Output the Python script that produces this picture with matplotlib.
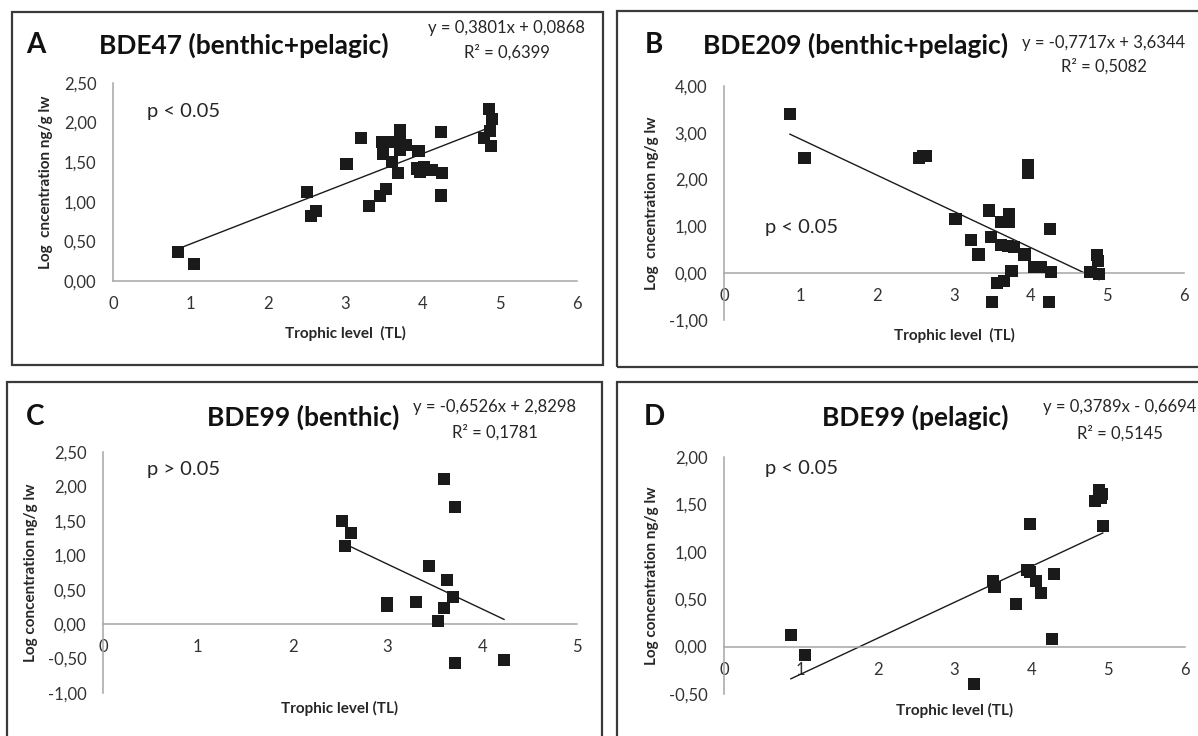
import numpy as np
import matplotlib
matplotlib.use("Agg")
import matplotlib.pyplot as plt
from matplotlib.patches import Rectangle
from matplotlib.ticker import FuncFormatter, MultipleLocator

plt.rcParams['font.family'] = ['Lato', 'DejaVu Sans']

# --- data (TL = trophic level, log conc ng/g lw) ---
tl_a = [0.84, 1.05, 2.51, 2.56, 2.62, 3.02, 3.21, 3.31, 3.45, 3.53, 3.48, 3.49, 3.61, 3.71, 3.68, 3.59,
        3.71, 3.79, 3.71, 3.95, 3.93, 4.02, 3.97, 4.12, 4.25, 4.24, 4.24, 4.86, 4.90, 4.87, 4.80, 4.89]
log_a = [0.37, 0.22, 1.12, 0.82, 0.88, 1.48, 1.81, 0.95, 1.07, 1.16, 1.76, 1.60, 1.50, 1.90, 1.36, 1.75,
         1.74, 1.72, 1.66, 1.64, 1.42, 1.44, 1.38, 1.40, 1.36, 1.88, 1.08, 2.17, 2.04, 1.89, 1.81, 1.70]

tl_b = [0.86, 1.05, 2.54, 2.63, 2.60, 3.96, 3.96, 3.02, 3.46, 3.72, 3.72, 3.61, 4.25, 3.22, 3.32, 3.48,
        3.61, 3.70, 3.78, 3.92, 4.04, 4.13, 4.26, 3.75, 3.56, 3.65, 3.50, 4.24, 4.87, 4.88, 4.78, 4.89]
log_b = [3.40, 2.47, 2.46, 2.50, 2.51, 2.31, 2.15, 1.16, 1.34, 1.27, 1.09, 1.09, 0.95, 0.70, 0.40, 0.77,
         0.61, 0.59, 0.56, 0.40, 0.13, 0.13, 0.03, 0.04, -0.21, -0.17, -0.61, -0.62, 0.38, 0.27, 0.03, -0.01]

tl_c = [2.52, 2.62, 2.55, 3.60, 3.71, 3.44, 3.63, 3.69, 3.00, 3.00, 3.30, 3.60, 3.53, 3.71, 4.23]
log_c = [1.50, 1.32, 1.14, 2.11, 1.70, 0.84, 0.64, 0.39, 0.31, 0.26, 0.32, 0.24, 0.04, -0.56, -0.52]

tl_d = [0.87, 1.06, 3.25, 3.50, 3.52, 3.80, 3.98, 3.95, 3.98, 4.06, 4.13, 4.29, 4.27, 4.88, 4.92, 4.83, 4.90, 4.93]
log_d = [0.12, -0.09, -0.39, 0.69, 0.63, 0.45, 1.29, 0.81, 0.79, 0.69, 0.57, 0.77, 0.08, 1.65, 1.61, 1.54, 1.57, 1.27]

# trendline coefficients as printed on the chart
fit_a = (0.3801, 0.0868)
fit_b = (-0.7717, 3.6344)
fit_c = (-0.6526, 2.8298)
fit_d = (0.3789, -0.6694)

W, H = 1198, 736
fig = plt.figure(figsize=(W / 100, H / 100), dpi=100)

def fx(x):
    return x / W

def fy(y):
    return 1 - y / H

# panel frames (pixel boxes: x0, y0, x1, y1)
frames = [(12, 12, 603, 365), (617, 11, 1210, 367), (7, 382, 602, 750), (617, 382, 1210, 750)]
for x0, y0, x1, y1 in frames:
    fig.add_artist(Rectangle((fx(x0), fy(y1)), fx(x1 - x0), (y1 - y0) / H, transform=fig.transFigure,
                             fill=False, edgecolor='#3a3a3a', lw=1.6))

panels = [
    dict(x=tl_a, y=log_a, fit=fit_a, box=(113, 83, 577, 281), xmax=6, ylim=(0, 2.5), ystep=0.5,
         letter='A', lpos=(26, 45), title='BDE47 (benthic+pelagic)', tpos=(99, 45),
         eq=('y = 0,3801x + 0,0868', 'R² = 0,6399'), eqpos=(507, 28, 52),
         p='p < 0.05', ppos=(147, 112), ylab='Log  cncentration ng/g lw', ylx=46, xlab='Trophic level  (TL)', xly=333),
    dict(x=tl_b, y=log_b, fit=fit_b, box=(724, 86, 1184, 320), xmax=6, ylim=(-1, 4), ystep=1,
         letter='B', lpos=(645, 45), title='BDE209 (benthic+pelagic)', tpos=(703, 45),
         eq=('y = -0,7717x + 3,6344', 'R² = 0,5082'), eqpos=(1104, 43, 66),
         p='p < 0.05', ppos=(765, 228), ylab='Log  cncentration ng/g lw', ylx=652, xlab='Trophic level  (TL)', xly=335),
    dict(x=tl_c, y=log_c, fit=fit_c, box=(103, 452, 577, 693), xmax=5, ylim=(-1, 2.5), ystep=0.5,
         letter='C', lpos=(26, 417), title='BDE99 (benthic)', tpos=(207, 417),
         eq=('y = -0,6526x + 2,8298', 'R² = 0,1781'), eqpos=(495, 407, 432),
         p='p > 0.05', ppos=(147, 469), ylab='Log concentration ng/g lw', ylx=31, xlab='Trophic level (TL)', xly=708),
    dict(x=tl_d, y=log_d, fit=fit_d, box=(724, 457, 1185, 694), xmax=6, ylim=(-0.5, 2), ystep=0.5,
         letter='D', lpos=(644, 417), title='BDE99 (pelagic)', tpos=(822, 417),
         eq=('y = 0,3789x - 0,6694', 'R² = 0,5145'), eqpos=(1120, 407, 433),
         p='p < 0.05', ppos=(765, 468), ylab='Log concentration ng/g lw', ylx=652, xlab='Trophic level (TL)', xly=710),
]

grey = '#a6a6a6'
txt = '#262626'

for pn in panels:
    x0, y0, x1, y1 = pn['box']
    ax = fig.add_axes([fx(x0), fy(y1), (x1 - x0) / W, (y1 - y0) / H])
    ax.set_xlim(0, pn['xmax'])
    ax.set_ylim(*pn['ylim'])
    ax.patch.set_alpha(0)

    for s in ['top', 'right']:
        ax.spines[s].set_visible(False)
    ax.spines['bottom'].set_position(('data', 0))
    ax.spines['bottom'].set_color(grey)
    ax.spines['left'].set_color(grey)
    ax.spines['bottom'].set_linewidth(1.1)
    ax.spines['left'].set_linewidth(1.1)

    ax.xaxis.set_major_locator(MultipleLocator(1))
    ax.yaxis.set_major_locator(MultipleLocator(pn['ystep']))
    ax.yaxis.set_major_formatter(FuncFormatter(lambda v, _: f"{v:.2f}".replace('.', ',')))
    ax.tick_params(axis='both', length=0, labelsize=12, labelcolor='#333333')
    ax.tick_params(axis='y', pad=12)
    ax.tick_params(axis='x', pad=11)

    xs = np.array(pn['x'])
    ys = np.array(pn['y'])
    m, c = pn['fit']
    xl = np.array([xs.min(), xs.max()])
    ax.plot(xl, m * xl + c, color='#1a1a1a', lw=1, zorder=2)
    ax.scatter(xs, ys, marker='s', s=76, color='#1a1a1a', edgecolors='none', zorder=3)

    ax.set_ylabel(pn['ylab'], fontsize=11, fontweight='bold', color=txt)
    ax.yaxis.label.set_va('center')
    ax.yaxis.set_label_coords((pn['ylx'] - x0) / (x1 - x0), 0.5)
    ax.set_xlabel(pn['xlab'], fontsize=11, fontweight='bold', color=txt)
    ax.xaxis.label.set_va('center')
    ax.xaxis.set_label_coords(0.5, (y1 - pn['xly']) / (y1 - y0))

    fig.text(fx(pn['lpos'][0]), fy(pn['lpos'][1]), pn['letter'], fontsize=20, fontweight='bold',
             color='#111111', ha='left', va='center')
    fig.text(fx(pn['tpos'][0]), fy(pn['tpos'][1]), pn['title'], fontsize=19, fontweight='bold',
             color='#111111', ha='left', va='center')
    ex, ey1, ey2 = pn['eqpos']
    fig.text(fx(ex), fy(ey1), pn['eq'][0], fontsize=12, color=txt, ha='center', va='center')
    fig.text(fx(ex), fy(ey2), pn['eq'][1], fontsize=12, color=txt, ha='center', va='center')
    fig.text(fx(pn['ppos'][0]), fy(pn['ppos'][1]), pn['p'], fontsize=14.5, color=txt, ha='left', va='center')

fig.savefig('out.png', dpi=100)
